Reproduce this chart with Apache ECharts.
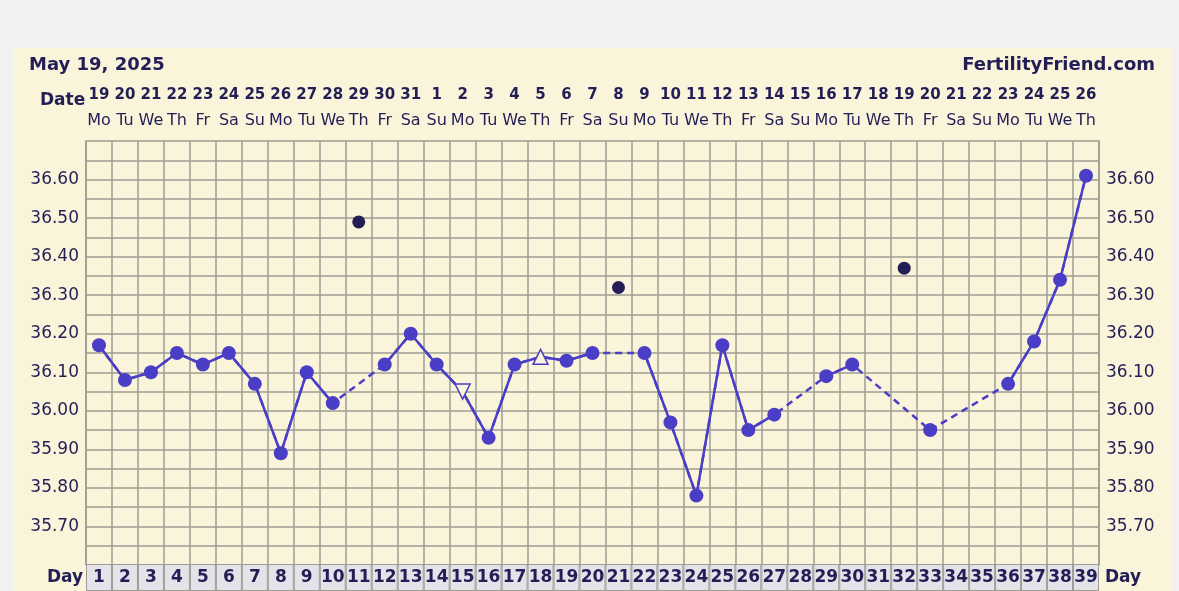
<!DOCTYPE html>
<html>
<head>
<meta charset="utf-8">
<script src="https://cdn.jsdelivr.net/npm/echarts@6/dist/echarts.min.js"></script>
<style>
html,body{margin:0;padding:0;background:#f1f1f1;}
#c{width:1179px;height:591px;}
</style>
</head>
<body>
<div id="c"></div>
<script>
var days = ['1','2','3','4','5','6','7','8','9','10','11','12','13','14','15','16','17','18','19','20','21','22','23','24','25','26','27','28','29','30','31','32','33','34','35','36','37','38','39'];
var dates = ['19','20','21','22','23','24','25','26','27','28','29','30','31','1','2','3','4','5','6','7','8','9','10','11','12','13','14','15','16','17','18','19','20','21','22','23','24','25','26'];
var weekdays = ['Mo','Tu','We','Th','Fr','Sa','Su','Mo','Tu','We','Th','Fr','Sa','Su','Mo','Tu','We','Th','Fr','Sa','Su','Mo','Tu','We','Th','Fr','Sa','Su','Mo','Tu','We','Th','Fr','Sa','Su','Mo','Tu','We','Th'];
var temps = [36.17,36.08,36.10,36.15,36.12,36.15,36.07,35.89,36.10,36.02,null,36.12,36.20,36.12,36.05,35.93,36.12,36.14,36.13,36.15,null,36.15,35.97,35.78,36.17,35.95,35.99,null,36.09,36.12,null,null,35.95,null,null,36.07,36.18,36.34,36.61];
var discarded = [null,null,null,null,null,null,null,null,null,null,36.49,null,null,null,null,null,null,null,null,null,36.32,null,null,null,null,null,null,null,null,null,null,36.37,null,null,null,null,null,null,null];
var yTickLabels = ['35.70','35.80','35.90','36.00','36.10','36.20','36.30','36.40','36.50','36.60'];
var triangleUpDays = ['18'];
var triangleDownDays = ['15'];

var purple = '#4a3ec6';
var navy = '#231e55';
var cream = '#faf4da';
var gridGray = '#9e9c94';
var font = 'DejaVu Sans';

var solidData = temps.map(function(v, i){
  if (v === null) return null;
  var d = days[i];
  if (triangleUpDays.indexOf(d) >= 0 || triangleDownDays.indexOf(d) >= 0) {
    return {value: v, symbol: 'triangle', symbolSize: 15,
      symbolRotate: triangleDownDays.indexOf(d) >= 0 ? 180 : 0,
      itemStyle: {color: cream, borderColor: purple, borderWidth: 1.5, opacity: 1}};
  }
  return v;
});

function yFmt(v){
  var s = (Math.round(v*100)/100).toFixed(2);
  return yTickLabels.indexOf(s) >= 0 ? s : '';
}

var chart = echarts.init(document.getElementById('c'));
chart.setOption({
  animation: false,
  backgroundColor: '#f1f1f1',
  graphic: [
    {type:'rect', z:-10, shape:{x:13,y:48,width:1159,height:560}, style:{fill:cream}},
    {type:'text', left:40, top:92, style:{text:'Date', font:'bold 17px "DejaVu Sans"', fill:navy}},
    {type:'text', left:47, top:569, style:{text:'Day', font:'bold 17px "DejaVu Sans"', fill:navy}},
    {type:'text', left:1105, top:569, style:{text:'Day', font:'bold 17px "DejaVu Sans"', fill:navy}}
  ],
  title: [
    {text:'May 19, 2025', left:24, top:51, textStyle:{fontFamily:font, fontWeight:'bold', fontSize:18, color:navy}},
    {text:'FertilityFriend.com', right:19, top:51, textStyle:{fontFamily:font, fontWeight:'bold', fontSize:18, color:navy}}
  ],
  grid: {left:86, top:141, width:1013, height:426, containLabel:false},
  xAxis: [
    {type:'category', data: days, position:'bottom', boundaryGap:true,
     axisLine:{show:false}, axisTick:{show:false},
     splitLine:{show:true, interval:0, lineStyle:{color:gridGray, width:1.5}},
     axisLabel:{interval:0, margin:0, fontFamily:font, fontWeight:'bold', fontSize:17, color:navy,
       backgroundColor:'#e5e3ea', borderColor:gridGray, borderWidth:1,
       width:24, height:25, lineHeight:25, padding:[0,0,0,0], align:'center', verticalAlign:'top'}},
    {type:'category', data: days, position:'top', boundaryGap:true,
     axisLine:{show:false}, axisTick:{show:false},
     axisLabel:{interval:0, margin:7,
       formatter:function(v, i){ return '{d|' + dates[i] + '}\n{w|' + weekdays[i] + '}'; },
       rich:{
         d:{fontFamily:font, fontWeight:'bold', fontSize:15, color:navy, lineHeight:26},
         w:{fontFamily:font, fontSize:16, color:navy, lineHeight:26}
       }}}
  ],
  yAxis: [
    {type:'value', min:35.6, max:36.7, interval:0.05, position:'left',
     axisLine:{show:true, lineStyle:{color:gridGray, width:1.5}}, axisTick:{show:false},
     splitLine:{show:true, lineStyle:{color:gridGray, width:1.5}},
     axisLabel:{formatter:yFmt, margin:7, fontFamily:font, fontSize:17, color:navy}},
    {type:'value', min:35.6, max:36.7, interval:0.05, position:'right',
     axisLine:{show:true, lineStyle:{color:gridGray, width:1.5}}, axisTick:{show:false},
     splitLine:{show:false},
     axisLabel:{formatter:yFmt, margin:7, fontFamily:font, fontSize:17, color:navy}}
  ],
  series: [
    {type:'line', data: temps, connectNulls:true, symbol:'none', z:2,
     lineStyle:{color:purple, width:2.5, type:[7,5]}},
    {type:'line', data: solidData, connectNulls:false, symbol:'circle', symbolSize:14, z:3,
     itemStyle:{color:purple, opacity:1}, lineStyle:{color:purple, width:2.5}},
    {type:'scatter', data: discarded, symbol:'circle', symbolSize:13, z:4,
     itemStyle:{color:navy, opacity:1}}
  ]
});
</script>
</body>
</html>
